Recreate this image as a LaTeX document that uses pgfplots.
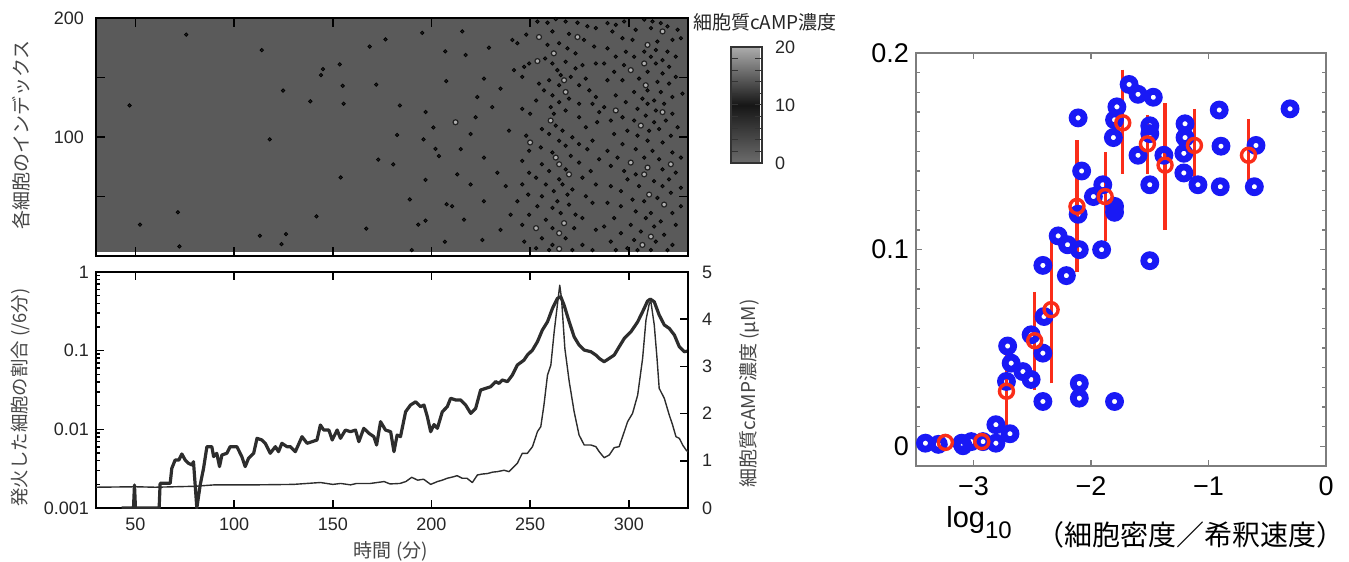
\documentclass[border=0pt]{standalone}
\usepackage{fontspec}
\setmainfont{Liberation Sans}
\newfontfamily\jp{Noto Sans CJK JP}
\usepackage{pgfplots}
\usepackage{pgfplotstable}
\pgfplotsset{compat=1.18}

\definecolor{hmgray}{RGB}{90,90,90}
\definecolor{dotdark}{RGB}{34,34,34}
\definecolor{dotlight}{RGB}{175,175,175}
\definecolor{labgray}{RGB}{70,70,70}
\definecolor{linegray}{RGB}{45,45,45}
\definecolor{ringblue}{RGB}{25,25,245}
\definecolor{meanred}{RGB}{250,45,25}
\definecolor{framegray}{RGB}{125,125,125}

\pgfplotsset{colormap={camp}{rgb255=(108,108,108) rgb255=(22,22,22) rgb255=(172,172,172)}}

% blue rings: single cultures
\pgfplotstableread{
x y
-1.676 0.184
-1.60 0.179
-1.47 0.1775
-1.78 0.1726
-0.909 0.171
-0.306 0.1716
-2.11 0.167
-1.80 0.166
-1.50 0.163
-1.50 0.159
-1.20 0.164
-1.81 0.157
-1.20 0.157
-0.894 0.1526
-0.596 0.153
-1.60 0.148
-1.38 0.148
-1.21 0.149
-1.21 0.139
-1.09 0.133
-0.90 0.132
-0.61 0.132
-1.50 0.133
-2.08 0.140
-1.90 0.133
-1.98 0.127
-1.80 0.122
-1.80 0.119
-2.11 0.118
-2.28 0.107
-2.20 0.1025
-2.10 0.100
-1.91 0.100
-2.41 0.092
-2.21 0.0868
-1.50 0.0944
-2.51 0.0567
-2.40 0.066
-2.41 0.0474
-2.71 0.051
-2.68 0.0423
-2.58 0.038
-2.51 0.034
-2.72 0.033
-2.41 0.0228
-2.10 0.032
-2.10 0.0245
-1.80 0.0228
-2.81 0.011
-2.69 0.0064
-2.81 0.0016
-3.41 0.0016
-3.30 0.001
-3.10 0.0016
-3.09 0.0003
-3.02 0.0024
-2.92 0.0024
}\blueTab

% red rings: means with error bars
\pgfplotstableread{
x y ep em
-2.72 0.028 0.020 0.0187
-2.48 0.0537 0.0233 0.0237
-2.34 0.0695 0.0365 0.036
-2.12 0.122 0.032 0.032
-1.88 0.127 0.021 0.021
-1.73 0.1645 0.0255 0.0245
-1.52 0.1538 0.0132 0.0138
-1.37 0.143 0.030 0.0315
-1.12 0.153 0.017 0.017
-0.66 0.148 0.017 0.017
}\redTab

\begin{document}
\begin{tikzpicture}
\useasboundingbox (0pt,0pt) rectangle (674.5pt,281pt);

% ---------- heatmap ----------
\begin{axis}[
  at={(48pt,153pt)}, anchor=south west, scale only axis,
  width=296pt, height=119pt,
  xmin=30, xmax=330, ymin=0, ymax=200,
  axis on top,
  axis line style={black, line width=0.9pt},
  tick style={black, line width=0.9pt},
  tick align=inside, major tick length=4.5pt,
  xtick={50,100,...,300}, xticklabels={},
  ytick={50,100,150,200}, yticklabels={,100,,200},
  xtick pos=both, ytick pos=both,
  yticklabel style={font=\fontsize{9}{9}\selectfont, text=black!85, xshift=-2.5pt},
  colormap name=camp, point meta min=0, point meta max=20,
  colorbar,
  colorbar style={
    at={(parent axis.north east)}, anchor=north west,
    xshift=13pt, yshift=-14.5pt,
    width=15.5pt, height=58pt,
    ytick={0,10,20}, yticklabels={0,10,20},
    minor ytick={2,4,6,8,12,14,16,18},
    ytick pos=both, yticklabel pos=right,
    tick align=inside, major tick length=3.5pt, minor tick length=3.5pt,
    tick style={black!80, line width=0.5pt},
    axis line style={black!80, line width=0.7pt},
    yticklabel style={font=\fontsize{9}{9}\selectfont, text=black!85, xshift=3pt},
  },
]
\addplot[fill=hmgray, draw=none] coordinates {(30,3.5) (330,3.5) (330,200) (30,200)} -- cycle;
% firing cells (dark spots)
\addplot[only marks, mark=*, mark size=0.85pt, mark options={fill=dotdark, draw=none}] coordinates {
(75.7,186)(114,173)(168.7,176)(176.7,182)(195.3,187.5)(207,172)(153.5,161)(145,157)(144,152)(155,143)(172,144)(207.5,147)(124.8,139)(138.6,130)(155.5,128)(184,126.5)(47,126.5)(197,121)(201,108)(118,98)(182.6,101.7)(196,98)(202,90)(203.8,84)(173,81)(180.6,77)(154,66)(197,64)(189,47.5)(207.7,43.5)(71.5,36.7)(141.7,33.3)(52.3,26.3)(193.3,26.3)(197,29.7)(167,23)(113,17)(126.3,18.4)(124,10)(72.3,8)(190,5)(206.8,12)
(215.6,188.7)(229.1,175.1)(217.3,168.9)(241,181.6)(226.6,149.1)(235,140.6)(241.8,156.2)(223.2,133.6)(230.8,125.1)(222.4,116.6)(219.8,102.5)(239.3,105.3)(214.8,89.8)(226.6,82.7)(233.4,70)(213.1,68.6)(219.8,60.1)(237.6,58.7)(226.6,46)(210.5,41.8)(240.1,34.7)(216.5,30.5)(235,21.9)(225.8,13.5)
(253.7,197)(258.8,196)(263,199)(268,197)(274,196)(279,193)(283.3,191.5)(261.3,188.7)(248,186)(269.7,186.7)(277.3,181.6)(243.5,178.8)(258.8,177.4)(264.7,178.8)(282.4,176)(268.9,174.5)(257.6,166)(273,170.3)(249.5,161.8)(261.3,161.8)(268,163.2)(276.5,160.4)(283.3,161.8)(247,159)(263.8,156.2)(273,157.6)(265.5,152)(270.6,150.5)(278.2,149.1)(246,150.5)(254.5,144.9)(259.6,147.7)(264.7,143.5)(274.8,143.5)(257,139.2)(280,139.2)(261.3,135)(283.3,133.6)(264.7,129.3)(269.7,132.2)(253,130.7)(246,123.7)(260.4,125.1)(274.8,127.9)(281.6,127.9)(250,119.5)(268,122.3)(262,119.5)(285,120.9)(274.8,116.6)(263,109.6)(256,106.7)(278.2,108.2)(284,112.4)(266.4,105.3)(248,101.1)(259.6,102.5)(271.4,99.7)(264.7,96.9)(281.6,96.9)(255.4,91.2)(268,92.6)(274.8,94)(249.5,88.4)(261.3,87)(279,89.8)(246,79.9)(270.6,84.1)(285,81.3)(256,77.1)(274.8,78.5)(249.5,70)(259.6,71.4)(268,72.8)(280.7,71.4)(253,65.8)(264.7,64.4)(276.5,65.8)(246,60.1)(258,60.1)(266.4,60.1)(283.3,60.1)(262,54.5)(271.4,55.9)(249,51.6)(256,50.2)(268.9,51.6)(278.2,50.2)(263.8,46)(243.5,46)(253.7,41.8)(269.7,43.2)(281.6,44.6)(261.3,40.4)(249.5,34.7)(273,34.7)(265.5,36.1)(258,30.5)(276.5,31.9)(246,26.2)(261.3,23.4)(272.3,23.4)(283.3,22)(256,14.9)(268,14.9)(247,12.1)(261.3,9.3)(276.5,9.3)(253,6.5)(271.4,5)(281.6,5)(259.6,5)
(289.2,195.7)(293.4,194.3)(297.6,197.1)(307.8,198.6)(312,197.1)(316.2,195.7)(319.6,192.9)(291.7,188.7)(303.5,190.1)(311.2,191.5)(324.7,190.1)(296.8,183)(301.9,181.6)(314.5,180.2)(322.1,181.6)(326.4,183)(289.2,174.5)(298.5,171.7)(307.8,171.7)(313.7,173.1)(319.6,171.7)(293.4,167.5)(302.7,167.5)(311.2,167.5)(317.1,164.6)(323.8,167.5)(287.5,161.8)(297.6,160.4)(313.7,161.8)(320.4,159)(292.6,154.8)(309.5,154.8)(317.1,153.4)(323.8,150.5)(327.2,136.4)(289.2,147.7)(296.8,147.7)(305.2,149.1)(314.5,146.3)(320.4,144.9)(302.7,137.8)(309.5,139.2)(316.2,137.8)(293.4,135)(322.1,133.6)(306.9,132.2)(312.8,130.7)(298.5,129.3)(317.9,127.9)(287.5,125.1)(309.5,127.9)(304.4,123.7)(313.7,122.3)(296.8,116.6)(308.6,118)(322.1,119.5)(290.9,113.8)(302.7,113.8)(312.8,112.4)(318.8,113.8)(299.3,105.3)(310.3,105.3)(315.4,106.7)(324.7,108.2)(292.6,102.5)(304.4,101.1)(321.3,101.1)(309.5,96.9)(296.8,94)(317.1,95.4)(289.2,88.4)(303.5,89.8)(312,88.4)(322.1,87)(294.3,82.7)(307.8,82.7)(315.4,81.3)(326.4,82.7)(290.9,75.7)(317.1,72.8)(297.6,71.4)(303.5,68.6)(323.8,70)(299.3,64.4)(312.8,62.9)(320.4,64.4)(290.9,58.7)(305.2,58.7)(317.1,58.7)(326.4,57.3)(296,54.5)(321.3,53.1)(301.9,47.4)(314.5,48.8)(289.2,44.6)(307.8,46)(326.4,41.8)(296,41.8)(303.5,37.5)(311.2,36.1)(322.1,36.1)(292.6,31.9)(308.6,31.9)(316.2,29.1)(301,26.2)(312.8,24.8)(323.8,26.2)(287.5,24.8)(296,19.2)(306.1,20.6)(317.9,17.8)(302.7,13.5)(290.9,12.1)(313.7,12.1)(322.1,9.3)(299.3,6.5)(311.2,5)(293.4,5)(304.4,5)(319.6,5)
};
% spots with bright centres
\addplot[only marks, mark=*, mark size=1.25pt, mark options={fill=dotlight, draw=dotdark, line width=0.6pt}] coordinates {
(254.5,184)(274,184)(262,170.3)(253.7,163.8)(267.2,147.7)(268,137.8)(260.4,113.8)(250,95.4)(263,82.7)(264.7,77.1)(269.7,68.6)(267.2,27.6)(253,23.4)(264.7,19.2)(264.7,6)
(317.1,188.7)(309.5,177.4)(307.8,161.8)(301,156.2)(308.6,143.5)(293.4,122.3)(317.1,120.9)(306.1,109.6)(301,78.5)(321.3,77.1)(309.5,74.3)(307.8,68.6)(310.3,51.6)(317.9,43.2)(311.2,16.3)(306.9,9.3)
(212.2,112.4)
};
\end{axis}

% ---------- time courses: fraction of firing cells (log) ----------
\begin{axis}[
  at={(48pt,27pt)}, anchor=south west, scale only axis,
  width=296pt, height=118pt,
  xmin=30, xmax=330, ymode=log, ymin=0.001, ymax=1,
  axis line style={black, line width=0.9pt},
  tick style={black, line width=0.8pt},
  tick align=inside, major tick length=4pt, minor tick length=2.2pt,
  xtick={50,100,...,300}, xticklabels={50,100,150,200,250,300},
  xtick pos=both, ytick pos=left,
  ytick={0.001,0.01,0.1,1}, yticklabels={0.001,0.01,0.1,1},
  minor ytick={0.002,0.003,0.004,0.005,0.006,0.007,0.008,0.009,0.02,0.03,0.04,0.05,0.06,0.07,0.08,0.09,0.2,0.3,0.4,0.5,0.6,0.7,0.8,0.9},
  xticklabel style={font=\fontsize{9}{9}\selectfont, text=black!85, yshift=-1.5pt},
  yticklabel style={font=\fontsize{9}{9}\selectfont, text=black!85},
]
\addplot[linegray, line width=1.6pt, line join=round] coordinates {
(43,0.001)(49,0.001)(49.5,0.00196)(50,0.001)(62,0.001)(62.5,0.00206)(67.6,0.00206)(68.4,0.00319)(70.1,0.00407)(72,0.00407)(73.5,0.00486)(75.2,0.00407)(76.9,0.0037)(78.6,0.00352)(79.4,0.00388)(81.1,0.001)(82.8,0.00196)(84.5,0.00319)(86.2,0.00602)(88.7,0.00602)(89.6,0.0045)(91.2,0.00496)(92.6,0.00336)(93.8,0.00472)(96.3,0.00496)(98,0.00602)(101.4,0.00602)(103.9,0.0045)(105.6,0.00336)(107.3,0.00428)(109.9,0.00496)(111.6,0.00769)(114.1,0.00732)(115.8,0.00664)(118.3,0.00496)(120.9,0.00602)(122.5,0.0052)(124.2,0.00664)(126.8,0.00602)(128.5,0.00602)(131,0.0052)(134.4,0.00807)(137,0.00664)(139.5,0.00697)(142,0.00732)(143.7,0.01135)(145.4,0.0098)(148,0.0098)(149.7,0.00732)(152.2,0.0098)(153.9,0.00769)(156.4,0.0098)(159,0.00933)(161.5,0.0098)(163.2,0.00697)(165.7,0.0103)(168.3,0.0089)(170.8,0.00807)(172.2,0.00632)(174.2,0.0125)(176.7,0.0098)(179.3,0.00933)(181,0.0052)(182.6,0.00847)(184.3,0.00807)(186.9,0.01675)(189.4,0.0204)(192,0.0224)(194.5,0.0194)(196.2,0.0204)(197.9,0.0145)(199.6,0.00933)(201.3,0.0115)(203,0.0103)(205.5,0.01675)(208,0.0194)(209.7,0.0248)(212.3,0.0236)(214.8,0.0236)(217.3,0.0204)(219.9,0.01596)(222.4,0.0185)(224.9,0.0316)(227.5,0.0332)(230,0.0348)(232.5,0.0404)(234.2,0.0384)(235.9,0.0424)(238.5,0.0404)(241,0.049)(243.5,0.0656)(246.9,0.076)(248.6,0.0879)(251.2,0.1019)(253.7,0.130)(256.2,0.183)(258.8,0.233)(261.3,0.344)(263.8,0.461)(265.5,0.485)(267.2,0.380)(269.8,0.233)(272.3,0.150)(274.8,0.118)(277.4,0.1019)(280.8,0.097)(283.3,0.0879)(285,0.0798)(287.5,0.0724)(290.1,0.0798)(292.6,0.0879)(295.1,0.112)(297.7,0.143)(301.1,0.174)(304.5,0.233)(307,0.313)(309.5,0.427)(310.9,0.453)(312.9,0.418)(315.4,0.284)(318,0.212)(320.5,0.192)(323.1,0.158)(325.6,0.112)(328.1,0.097)(330,0.099)
};
\end{axis}

% ---------- time courses: cytosolic cAMP (linear, right) ----------
\begin{axis}[
  at={(48pt,27pt)}, anchor=south west, scale only axis,
  width=296pt, height=118pt,
  xmin=30, xmax=330, ymin=0, ymax=5,
  axis x line=none, axis y line*=right,
  axis line style={black, line width=0.9pt},
  tick style={black, line width=0.8pt},
  tick align=inside, major tick length=4pt,
  ytick={0,1,2,3,4,5}, yticklabels={0,1,2,3,4,5},
  yticklabel style={font=\fontsize{9}{9}\selectfont, text=black!85, xshift=3.5pt},
]
\addplot[linegray, line width=0.7pt, line join=round] coordinates {
(30,0.44)(50,0.45)(60,0.44)(80,0.46)(90,0.49)(110,0.49)(130,0.50)(143.7,0.54)(150,0.50)(154,0.52)(159,0.49)(162,0.52)(169,0.52)(176,0.56)(179,0.51)(184,0.52)(187,0.56)(190,0.65)(193,0.59)(196,0.61)(199.6,0.50)(203,0.56)(205.5,0.59)(208,0.63)(211,0.66)(213,0.685)(215.6,0.63)(218,0.63)(220.7,0.54)(223.3,0.70)(225.8,0.72)(228.4,0.73)(231,0.76)(233.4,0.77)(236.8,0.80)(239.3,0.77)(241.8,0.875)(243.5,0.946)(246,1.158)(248.6,1.158)(251.2,1.30)(253.7,1.617)(255.4,1.723)(257,2.182)(258.8,2.817)(260.5,3.03)(262.2,3.74)(263.8,4.30)(265,4.72)(265.9,4.44)(267.6,3.38)(269.8,2.68)(272.3,2.04)(274.8,1.546)(277.4,1.334)(280.8,1.334)(283.3,1.30)(285,1.193)(287.5,1.066)(290.1,1.123)(292.6,1.278)(295.1,1.30)(297.7,1.617)(299.4,1.829)(301.9,2.005)(304.5,2.394)(307,3.17)(308.7,3.983)(310.4,4.336)(311.2,4.371)(312.9,3.877)(314.3,3.17)(315.4,2.535)(318,2.323)(320.5,1.97)(322.2,1.758)(323.9,1.511)(325.6,1.476)(327.3,1.334)(329,1.229)(330,1.19)
};
\end{axis}

% ---------- right panel ----------
\begin{axis}[
  at={(458pt,48pt)}, anchor=south west, scale only axis,
  width=205pt, height=206.5pt,
  xmin=-3.49, xmax=0, ymin=-0.01, ymax=0.2,
  axis line style={framegray, line width=0.6pt},
  tick style={framegray, line width=0.6pt},
  tick align=inside, major tick length=3pt, minor tick length=1.8pt,
  xtick={-3,-2,-1,0}, xticklabels={−3,−2,−1,0},
  ytick={0,0.1,0.2}, yticklabels={0,0.1,0.2},
  minor ytick={-0.01,0.01,0.02,0.03,0.04,0.05,0.06,0.07,0.08,0.09,0.11,0.12,0.13,0.14,0.15,0.16,0.17,0.18,0.19},
  xtick pos=both, ytick pos=both,
  xticklabel style={font=\fontsize{13.5}{14}\selectfont, text=black, yshift=-2pt},
  yticklabel style={font=\fontsize{13.5}{14}\selectfont, text=black},
  clip=false,
]
\addplot[only marks, mark=o, mark size=3pt, ringblue, mark options={line width=3.4pt}] table {\blueTab};
\addplot[only marks, mark=o, mark size=3.5pt, meanred, mark options={line width=1.7pt},
  error bars/.cd, y dir=both, y explicit,
  error bar style={line width=1.6pt, meanred},
  error mark options={meanred, line width=1.6pt, mark size=1.5pt}]
  table[x=x, y=y, y error plus=ep, y error minus=em] {\redTab};
\addplot[only marks, mark=o, mark size=3.5pt, meanred, mark options={line width=1.7pt}] coordinates {(-3.24,0.002) (-2.93,0.0024)};
\end{axis}

% ---------- labels ----------
\node[rotate=90, font=\jp\fontsize{9.5}{10}\selectfont, text=labgray] at (10.75pt,213.5pt) {各細胞のインデックス};
\node[rotate=90, font=\jp\fontsize{9.2}{10}\selectfont, text=labgray] at (10.5pt,82.25pt) {発火した細胞の割合 (/6分)};
\node[rotate=90, font=\jp\fontsize{9.5}{10}\selectfont, text=labgray] at (374.5pt,84.25pt) {細胞質cAMP濃度 (µM)};
\node[font=\jp\fontsize{9.5}{10}\selectfont, text=labgray] at (195.5pt,5.5pt) {時間 (分)};
\node[font=\jp\fontsize{9.5}{10}\selectfont, text=black!85] at (382.5pt,269.75pt) {細胞質cAMP濃度};
\node[anchor=base west, inner sep=0pt, font=\fontsize{14.5}{15}\selectfont] at (473pt,17pt) {log\raisebox{-5pt}{\fontsize{12}{12}\selectfont 10}};
\node[anchor=west, inner sep=0pt, font=\jp\fontsize{14}{15}\selectfont] at (518pt,13.75pt) {（細胞密度／希釈速度）};
\end{tikzpicture}
\end{document}
